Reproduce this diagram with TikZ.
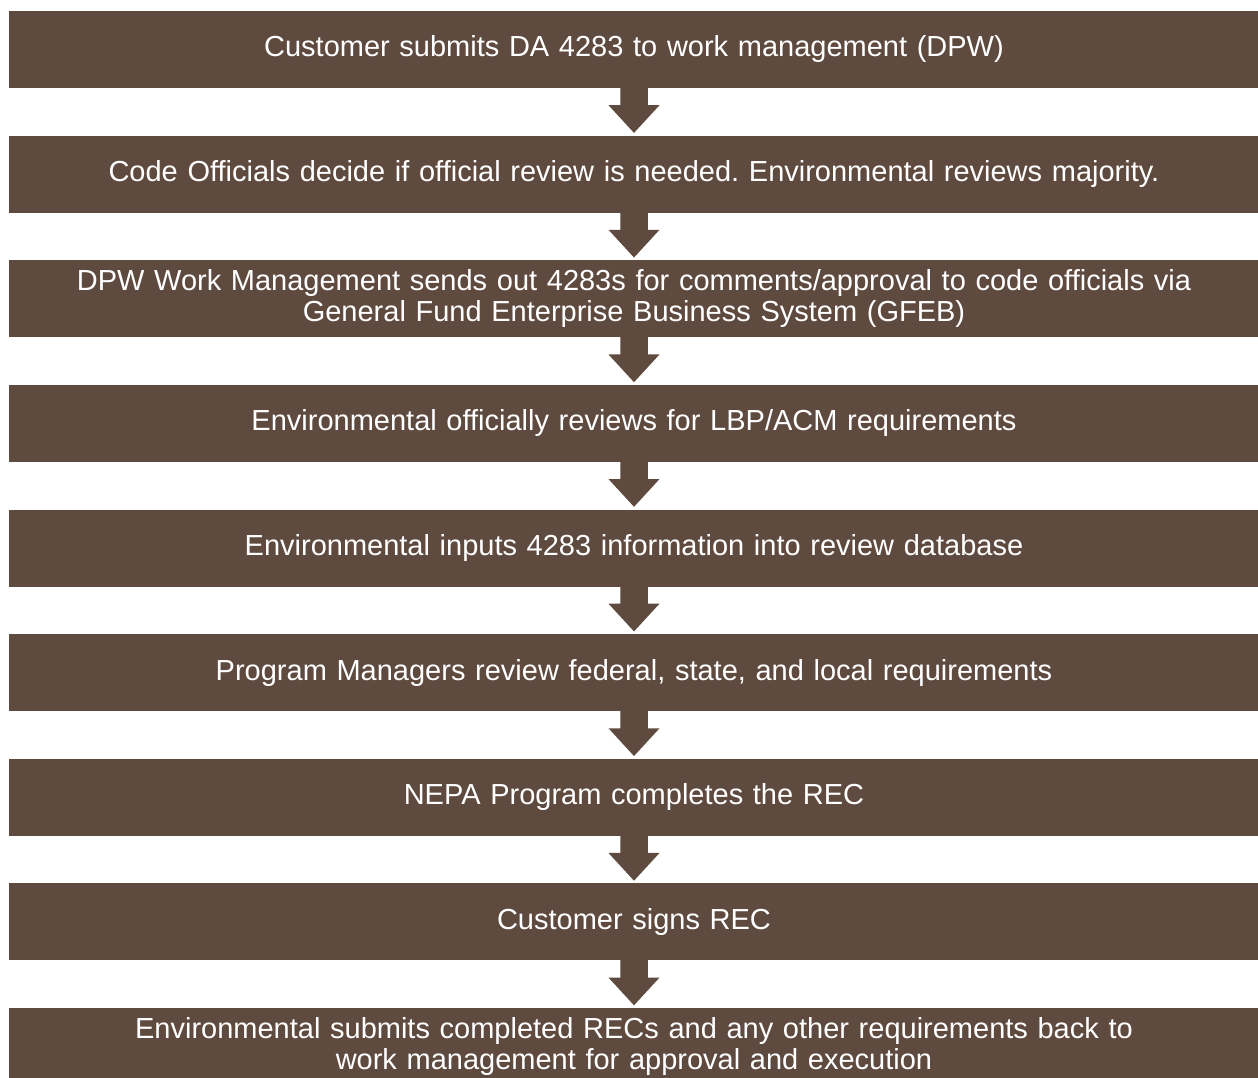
\documentclass[tikz,border=0pt]{standalone}
\usepackage{fontspec}
\setmainfont{Liberation Sans}
\usetikzlibrary{calc}
\definecolor{stepbrown}{HTML}{5F4A3F}
\frenchspacing
\begin{document}
\begin{tikzpicture}[x=1pt,y=1pt,
  stepbox/.style={fill=stepbrown, draw=none, text=white, inner sep=0pt,
    minimum width=1250pt, minimum height=77pt, text width=1230pt, align=center,
    font=\fontsize{29}{31}\selectfont},
  flowarrow/.style={fill=stepbrown, draw=none}]
\useasboundingbox (0,0) rectangle (1258,-1078);
\clip (0,0) rectangle (1258,-1078);
% process steps, top to bottom
\node[stepbox] (b1) at (634,-49.5) {Customer submits DA 4283 to work management (DPW)};
\node[stepbox] (b2) at (634,-174.1) {Code Officials decide if official review is needed. Environmental reviews majority.};
\node[stepbox] (b3) at (634,-298.75) {DPW Work Management sends out 4283s for comments/approval to code officials via\\General Fund Enterprise Business System (GFEB)};
\node[stepbox] (b4) at (634,-423.4) {Environmental officially reviews for LBP/ACM requirements};
\node[stepbox] (b5) at (634,-548) {Environmental inputs 4283 information into review database};
\node[stepbox] (b6) at (634,-672.6) {Program Managers review federal, state, and local requirements};
\node[stepbox] (b7) at (634,-797.25) {NEPA Program completes the REC};
\node[stepbox] (b8) at (634,-921.9) {Customer signs REC};
\node[stepbox] (b9) at (634,-1046.5) {Environmental submits completed RECs and any other requirements back to\\work management for approval and execution};
% block arrows between consecutive steps
\foreach \a/\b in {b1/b2,b2/b3,b3/b4,b4/b5,b5/b6,b6/b7,b7/b8,b8/b9}{
  \fill[flowarrow] ($(\a.south)+(-13.75,1)$) -- ($(\a.south)+(-13.75,-17)$)
    -- ($(\a.south)+(-25.5,-17)$) -- ($(\b.north)+(0,2.5)$)
    -- ($(\a.south)+(25.5,-17)$) -- ($(\a.south)+(13.75,-17)$)
    -- ($(\a.south)+(13.75,1)$) -- cycle;
}
\end{tikzpicture}
\end{document}
